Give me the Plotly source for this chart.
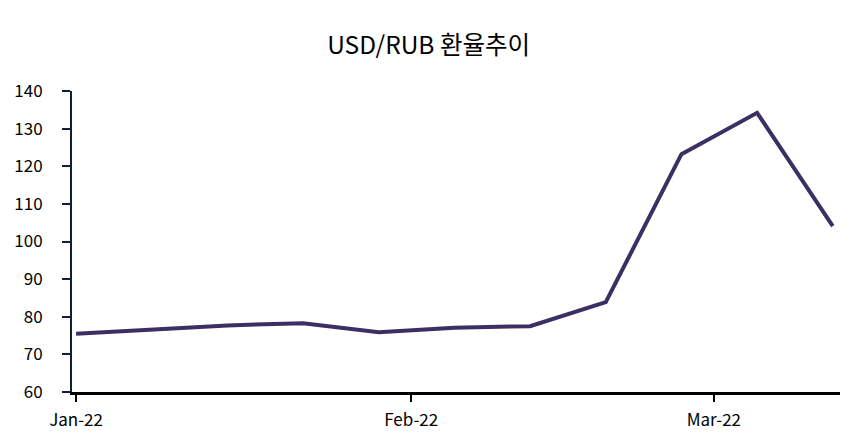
import plotly.graph_objects as go

# weekly USD/RUB (Saturday closes), Jan 8 missing in source
dates = ["2022-01-01", "2022-01-15", "2022-01-22", "2022-01-29", "2022-02-05",
         "2022-02-12", "2022-02-19", "2022-02-26", "2022-03-05", "2022-03-12"]
usd_rub = [75.5, 77.7, 78.3, 75.9, 77.1, 77.5, 83.9, 123.2, 134.2, 104.1]

tick_dates = ["2022-01-01", "2022-02-01", "2022-03-01"]
tick_text = ["Jan-22", "Feb-22", "Mar-22"]

font_family = "Noto Sans CJK KR, Noto Sans, sans-serif"

fig = go.Figure(go.Scatter(
    x=dates,
    y=usd_rub,
    mode="lines",
    line=dict(color="#3b2f63", width=4),
    hoverinfo="x+y",
))

# page body adds an 8px offset, margins compensate for it
fig.update_layout(
    width=862,
    height=437,
    margin=dict(l=64, r=30, t=83, b=53, autoexpand=False),
    paper_bgcolor="white",
    plot_bgcolor="white",
    showlegend=False,
    font=dict(family=font_family, size=17, color="#000000"),
    title=dict(
        text="USD/RUB 환율추이",
        x=0.488,
        xanchor="center",
        y=0.915,
        yanchor="middle",
        font=dict(family=font_family, size=24.5, color="#000000"),
    ),
)

fig.update_xaxes(
    type="date",
    range=["2021-12-31 15:00", "2022-03-12 16:00"],
    tickvals=tick_dates,
    ticktext=tick_text,
    ticks="outside",
    ticklen=7,
    tickwidth=1.5,
    tickcolor="#000000",
    showline=True,
    linecolor="#000000",
    linewidth=2.5,
    showgrid=False,
    zeroline=False,
    automargin=False,
    ticklabelstandoff=4,
)

fig.update_yaxes(
    range=[60, 140],
    dtick=10,
    ticks="outside",
    ticklen=8,
    tickwidth=1.5,
    tickcolor="#0d1f3c",
    showline=True,
    linecolor="#0d1f3c",
    linewidth=2,
    showgrid=False,
    zeroline=False,
    automargin=False,
    ticklabelstandoff=16,
)

fig.write_html("out.html")
